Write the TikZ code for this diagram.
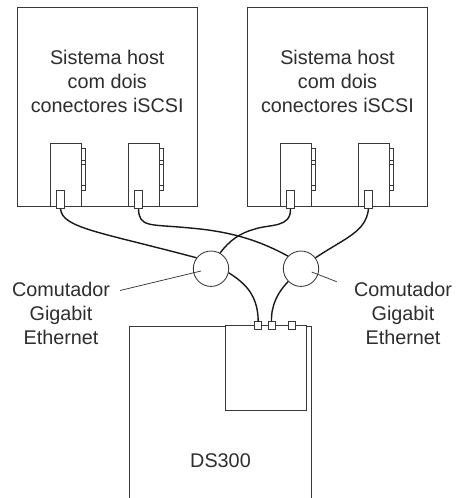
\documentclass[tikz,border=0pt]{standalone}
\usepackage{fontspec}
\setmainfont{Liberation Sans}
\definecolor{ink}{gray}{0.18}
\definecolor{edge}{gray}{0.22}
\tikzset{
  box/.style={draw=edge,line width=0.85pt,fill=white,inner sep=0pt,rectangle},
  swnode/.style={draw=edge,line width=0.85pt,fill=white,circle,inner sep=0pt,minimum size=35.4pt},
  txt/.style={text=ink,align=center,inner sep=0pt,font=\fontsize{19.8}{24.3}\selectfont},
  cable/.style={draw=black!90,line width=1.4pt},
  leader/.style={draw=edge,line width=0.75pt},
}
\begin{document}
\begin{tikzpicture}[x=1pt,y=-1pt]
\clip (0,0) rectangle (456,498);
\fill[white] (0,0) rectangle (456,498);
% hosts
\node[box,minimum width=179.5pt,minimum height=199pt] (h1) at (107.25,106.5) {};
\node[box,minimum width=180pt,minimum height=199pt] (h2) at (337.5,106.5) {};
\node[txt] (h1t) at (107.25,81.5) {Sistema host\\com dois\\conectores iSCSI};
\node[txt] (h2t) at (337.5,81.5) {Sistema host\\com dois\\conectores iSCSI};
% side strips and cards
\foreach \n/\cx in {a/65.5,b/143.5,c/295.5,d/373.5}{
  \node[box,line width=0.6pt,minimum width=4pt,minimum height=41.5pt] (s\n) at (\cx+17.5,169.25) {};
  \node[box,minimum width=31pt,minimum height=62.5pt] (k\n) at (\cx,174.75) {};
  \draw[edge,line width=0.6pt] (\cx+15.5,160.5) -- +(4,0) (\cx+15.5,164) -- +(4,0) (\cx+15.5,185) -- +(4,0);
  \node[box,line width=0.6pt,minimum width=8pt,minimum height=18.5pt] (p\n) at (\cx-5,199.25) {};
}
% DS300
\node[box,minimum width=181.5pt,minimum height=194pt] (ds) at (220.25,423) {};
\node[box,minimum width=80.5pt,minimum height=85.5pt] (in) at (265.75,367.75) {};
\node[txt] (dst) at (220.5,461) {DS300};
\node[box,line width=0.6pt,minimum width=7pt,minimum height=7.5pt] (q1) at (258.2,325.5) {};
\node[box,line width=0.6pt,minimum width=7pt,minimum height=7.5pt] (q2) at (271.5,325.5) {};
\node[box,line width=0.6pt,minimum width=7pt,minimum height=7.5pt] (q3) at (292,325.5) {};
% switches
\node[swnode] (w1) at (211,268.7) {};
\node[swnode] (w2) at (301,268.7) {};
% cables
\draw[cable] (pa.south) .. controls (62,228) and (100,232) .. (w1.143);
\draw[cable] (pb.south) .. controls (139,228) and (150,224) .. (190,228) .. controls (225,231) and (255,238) .. (w2.136);
\draw[cable] (pc.south) .. controls (291,228) and (270,224) .. (255,229) .. controls (240,233) and (230,240) .. (w1.60);
\draw[cable] (pd.south) .. controls (366,232) and (345,238) .. (w2.37);
\draw[cable] (w1.-13) .. controls (245,283) and (258,295) .. (q1.north);
\draw[cable] (w2.225) .. controls (278,292) and (271,305) .. (q2.north);
% leaders
\coordinate (la) at (120,290.5);
\coordinate (lb) at (201,271);
\coordinate (ra) at (336.7,281.7);
\coordinate (rb) at (311.7,272);
\draw[leader] (la) -- (lb);
\draw[leader] (ra) -- (rb);
\node[txt] (l1) at (61,313.5) {Comutador\\Gigabit\\Ethernet};
\node[txt] (l2) at (403,313.5) {Comutador\\Gigabit\\Ethernet};
\end{tikzpicture}
\end{document}
